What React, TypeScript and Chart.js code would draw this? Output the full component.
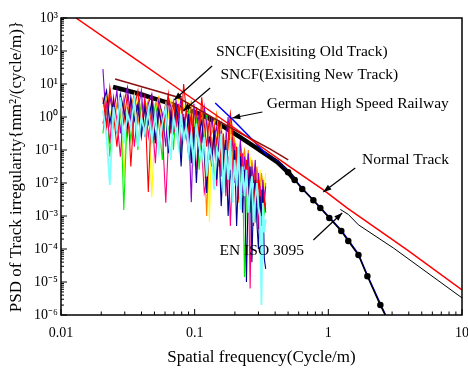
import React, { useEffect, useRef } from 'react';
import { Chart, registerables } from 'chart.js';

Chart.register(...registerables);

const FONT = '"Liberation Serif", "Times New Roman", Times, serif';

// Axis ticks
const xTickValues = [0.01, 0.1, 1, 10];
const xTickLabels = ['0.01', '0.1', '1', '10'];
const yTickValues = [1e3, 1e2, 1e1, 1e0, 1e-1, 1e-2, 1e-3, 1e-4, 1e-5, 1e-6];
const yTickLabels = ['10³', '10²', '10¹', '10⁰', '10⁻¹', '10⁻²', '10⁻³', '10⁻⁴', '10⁻⁵', '10⁻⁶'];
const minorMultipliers = [2, 3, 4, 5, 6, 7, 8, 9];

// Measured spectra: shared spatial frequencies (cycle/m)
const freq = [
  0.0206, 0.0219, 0.0232, 0.0247, 0.0262, 0.0278, 0.0295, 0.0314, 0.0333, 0.0354, 0.0376, 0.0399, 0.0424,
  0.0450, 0.0478, 0.0508, 0.0539, 0.0573, 0.0608, 0.0635, 0.0664, 0.0694, 0.0725, 0.0758, 0.0792, 0.0827,
  0.0865, 0.0903, 0.0944, 0.0987, 0.103, 0.108, 0.113, 0.118, 0.123, 0.129, 0.134, 0.140, 0.146,
  0.152, 0.158, 0.164, 0.171, 0.178, 0.185, 0.192, 0.199, 0.206, 0.213, 0.220, 0.228, 0.236,
  0.244, 0.252, 0.260, 0.268, 0.276, 0.284, 0.292, 0.300, 0.308, 0.316, 0.324, 0.332, 0.340,
];

// Measured PSD values, as log10 of mm^2/(cycle/m)
const cyanLog = [
  0.2, -0.6, -2.06, 0.3, -0.4, 0.6, -0.8, 0.1, -0.3, 0.5, -0.9, 0.0, -0.5,
  0.2, -0.7, 0.1, -1.0, -0.2, 0.3, -0.6, -1.3, 0.0, -0.4, -0.9, 0.1, -0.7,
  -0.3, -1.1, -0.5, -1.5, -0.2, -0.9, -1.3, -0.6, -1.8, -0.9, -1.2, -2.2, -1.0,
  -1.2, -0.5, -2.3, -1.0, -1.9, -0.7, -2.6, -1.3, -2.1, -0.9, -2.8, -1.5, -2.4,
  -1.6, -2.9, -2.2, -1.8, -3.2, -2.5, -2.0, -2.7, -3.0, -5.7, -2.6, -3.5, -3.1,
];
const navyLog = [
  0.4, 0.8, -0.2, 0.5, -0.5, 0.7, 0.2, -0.3, 0.6, -0.1, 0.4, -0.6, 0.3,
  -0.2, 0.5, -0.8, 0.2, -0.3, 0.4, -1.1, 0.1, -0.4, 0.3, -0.2, -1.5, 0.0,
  -0.6, 0.1, -1.4, -0.3, -2.0, -0.5, -0.1, -1.1, -2.3, -0.6, -1.5, -0.4, -1.9,
  -0.9, -2.7, -1.3, -0.7, -3.0, -1.6, -2.2, -1.0, -3.3, -1.8, -1.2, -2.9, -1.6,
  -5.0, -2.0, -1.5, -4.4, -2.3, -1.9, -3.2, -4.0, -2.4, -3.0, -2.2, -4.3, -4.6,
];
const redLog = [
  0.6, -0.3, 0.9, 0.1, -0.9, 0.4, -0.2, 0.7, -1.5, 0.3, 0.8, -0.4, 0.5,
  -2.27, 0.6, -0.7, 0.3, -0.6, 0.2, 0.7, -0.5, 0.4, -0.1, 0.3, -0.3, 1.0,
  0.2, -0.4, 0.1, -1.0, 0.3, -0.6, 0.6, -0.2, -0.9, 0.0, -1.4, -0.3, -0.8,
  -0.1, -1.5, -0.5, -2.1, -0.7, 0.1, -0.4, -1.9, -0.9, -2.5, -1.1, -1.6, -2.2,
  -1.3, -2.7, -1.6, -2.0, -3.3, -1.7, -2.4, -1.9, -2.9, -2.2, -3.1, -2.5, -2.8,
];
const greenLog = [
  -0.5, 0.5, -1.2, 0.2, -0.4, 0.7, -2.82, 0.3, -0.7, 0.1, -1.0, 0.4, -0.3,
  0.2, -0.8, 0.4, -0.2, -1.3, 0.3, -0.5, 0.1, -1.0, 0.2, -0.4, -1.2, 0.0,
  -0.7, 0.2, -1.2, -0.4, 0.0, -1.6, -0.5, -0.9, 0.1, -1.3, -0.6, -2.0, -0.8,
  -1.5, -0.6, -2.2, -1.0, -1.7, -0.8, -2.4, -1.3, -1.9, -1.1, -2.0, -1.5, -4.85,
  -2.3, -1.4, -2.9, -1.8, -2.5, -3.2, -1.9, -2.7, -2.2, -3.3, -2.4, -2.9, -2.6,
];
const purpleLog = [
  1.45, -0.3, 0.6, 0.1, 0.8, -0.5, 0.4, 0.9, -0.1, 0.5, 0.2, 0.8, -0.6,
  0.4, 0.7, -0.2, 0.5, 0.1, -0.9, 0.6, 0.3, -0.4, 0.5, 0.0, 0.6, -0.5,
  0.2, -0.3, -2.58, 0.4, -0.5, 0.1, -0.8, 0.3, -0.2, -1.1, 0.0, -0.6, -0.3,
  -1.0, -0.4, -1.6, -0.8, 0.0, -1.3, -0.6, -2.0, -0.9, -1.4, -0.7, -2.3, -1.2,
  -1.8, -1.1, -2.4, -1.5, -2.0, -1.3, -2.7, -1.7, -2.2, -3.0, -1.9, -2.5, -2.1,
];
const magentaLog = [
  -0.2, 0.4, -0.8, 0.6, -0.1, -1.2, 0.3, -0.5, 0.5, -0.9, 0.2, -0.3, 0.6,
  -0.6, 0.1, -1.4, 0.3, -0.4, -2.6, -0.8, 0.2, -0.5, -0.3, 0.4, -1.0, 0.1,
  -0.5, -1.2, 0.0, -0.7, -1.6, -0.3, -1.0, -2.3, -1.9, -0.6, -1.3, -0.4, -2.1,
  -0.9, -1.8, -0.6, -2.4, -1.2, -3.3, -1.5, -0.8, -2.0, -1.4, -2.6, -1.1, -1.9,
  -2.3, -1.5, -5.2, -2.0, -2.8, -1.7, -2.5, -3.4, -2.1, -2.7, -3.0, -2.3, -2.9,
];
const orangeLog = [
  0.5, 0.1, 0.8, -0.3, 0.4, 0.0, 0.6, -0.6, 0.3, 0.7, -0.2, 0.4, 0.1,
  0.5, -0.4, 0.3, 0.6, -0.1, 0.4, -0.7, 0.2, 0.5, -0.3, 0.1, 0.3, -0.5,
  0.2, -0.2, 0.5, -0.8, 0.0, -0.4, 0.3, -1.0, -3.0, -0.6, -0.5, -0.3, 0.1,
  -0.6, -0.2, -1.2, -0.5, -0.9, 0.0, -1.5, -0.7, -1.1, -2.6, -0.8, -1.3, -1.0,
  -1.6, -1.0, -2.0, -1.3, -1.8, -2.3, -1.5, -1.9, -2.4, -1.7, -2.1, -2.6, -2.0,
];
const yellowLog = [
  0.3, 0.6, 0.0, 0.5, -0.4, 0.7, -1.85, 0.2, 0.4, 0.1, 0.6, -0.2, 0.3,
  0.5, -2.42, 0.2, 0.6, -0.1, 0.4, 0.0, 0.5, -0.3, 0.3, 0.6, -0.2, 0.4,
  0.1, 0.4, -0.3, 0.2, -0.6, 0.0, -0.2, -0.8, 0.1, -3.18, -0.4, -0.1, -0.7,
  -0.4, -1.0, -0.6, -1.4, -0.8, -0.3, -1.2, -1.7, -0.9, -1.3, -1.0, -1.6, -1.1,
  -1.4, -1.9, -1.2, -1.7, -2.2, -1.5, -1.8, -2.0, -1.6, -2.3, -1.9, -2.1, -1.7,
];

// Reference spectra
const normalF = [0.01295, 0.0329, 0.0778, 0.219, 0.519, 0.918, 1.387, 3.91, 10];
const normalV = [1000, 74, 6.58, 0.351, 0.0305, 6.17e-3, 1.74e-3, 9.3e-5, 5.8e-6];

const enF = [1.23, 1.41, 1.68, 3.07, 10];
const enV = [1.58e-3, 1.12e-3, 5.4e-4, 1.07e-4, 3.3e-6];

const oldF = [0.0254, 0.0434, 0.074, 0.1306, 0.219, 0.368, 0.501];
const oldV = [14.2, 7.6, 4.04, 1.07, 0.327, 0.107, 0.05];

const blackF = [0.0245, 0.03, 0.04, 0.05, 0.065, 0.08, 0.105, 0.13, 0.17, 0.22, 0.28, 0.35, 0.415, 0.5, 0.56, 0.638, 0.773, 0.871, 1.017, 1.25, 1.41, 1.68, 1.96, 2.45, 2.7];
const blackV = [8.1, 6.6, 4.8, 3.6, 2.6, 1.9, 1.32, 0.87, 0.47, 0.24, 0.126, 0.069, 0.043, 0.021, 0.0123, 6.6e-3, 3.0e-3, 1.74e-3, 8.7e-4, 3.5e-4, 1.74e-4, 6.6e-5, 1.5e-5, 2.0e-6, 8.9e-7];

const germanF = [0.1425, 0.194, 0.251, 0.3475, 0.415, 0.5, 0.638, 0.871, 1.25, 1.68, 1.96, 2.45, 2.75];
const germanV = [2.65, 0.81, 0.28, 0.071, 0.045, 0.022, 0.0069, 0.0018, 3.7e-4, 7.0e-5, 1.6e-5, 2.2e-6, 8e-7];

// Annotations (data coordinates)
const annotationTexts = [
  { text: 'SNCF(Exisiting Old Track)', f: 0.633, v: 93.3 },
  { text: 'SNCF(Exisiting New Track)', f: 0.721, v: 18.7 },
  { text: 'German High Speed Railway', f: 1.66, v: 2.48 },
  { text: 'Normal Track', f: 3.78, v: 0.0498 },
  { text: 'EN ISO 3095', f: 0.3177, v: 8.7e-5 },
];
const annotationArrows = [
  { f1: 0.135, v1: 35.1, f2: 0.0702, v2: 3.27 },
  { f1: 0.1305, v1: 7.56, f2: 0.082, v2: 1.52 },
  { f1: 0.321, v1: 1.42, f2: 0.191, v2: 0.933 },
  { f1: 1.59, v1: 0.0285, f2: 0.917, v2: 5.33e-3 },
  { f1: 0.773, v1: 1.87e-4, f2: 1.27, v2: 1.23e-3 },
];

const pts = (fs: number[], vs: number[]) => fs.map((f, i) => ({ x: f, y: vs[i] }));
const logPts = (logs: number[]) => freq.map((f, i) => ({ x: f, y: Math.pow(10, logs[i]) }));

const framePlugin = {
  id: 'frameAndNotes',
  afterDatasetsDraw(chart: any) {
    const { ctx, chartArea: a, scales } = chart;
    const xs = scales.x;
    const ys = scales.y;
    ctx.save();
    ctx.strokeStyle = '#000';
    ctx.fillStyle = '#000';
    ctx.lineWidth = 1.5;
    ctx.strokeRect(a.left, a.top, a.right - a.left, a.bottom - a.top);
    ctx.lineWidth = 1;
    const line = (x1: number, y1: number, x2: number, y2: number) => {
      ctx.beginPath();
      ctx.moveTo(x1, y1);
      ctx.lineTo(x2, y2);
      ctx.stroke();
    };
    yTickValues.forEach((d) => {
      const p = ys.getPixelForValue(d);
      line(a.left, p, a.left + 6, p);
      minorMultipliers.forEach((m) => {
        const v = d * m;
        if (v < 1e3) {
          const q = ys.getPixelForValue(v);
          line(a.left, q, a.left + 3, q);
        }
      });
    });
    xTickValues.forEach((d) => {
      const p = xs.getPixelForValue(d);
      line(p, a.bottom, p, a.bottom - 6);
      minorMultipliers.forEach((m) => {
        const v = d * m;
        if (v < 10) {
          const q = xs.getPixelForValue(v);
          line(q, a.bottom, q, a.bottom - 3.5);
        }
      });
    });
    ctx.lineWidth = 1.2;
    annotationArrows.forEach((ar) => {
      const x1 = xs.getPixelForValue(ar.f1);
      const y1 = ys.getPixelForValue(ar.v1);
      const x2 = xs.getPixelForValue(ar.f2);
      const y2 = ys.getPixelForValue(ar.v2);
      line(x1, y1, x2, y2);
      const ang = Math.atan2(y2 - y1, x2 - x1);
      const L = 8;
      const W = 3;
      ctx.beginPath();
      ctx.moveTo(x2, y2);
      ctx.lineTo(x2 - L * Math.cos(ang) + W * Math.sin(ang), y2 - L * Math.sin(ang) - W * Math.cos(ang));
      ctx.lineTo(x2 - L * Math.cos(ang) - W * Math.sin(ang), y2 - L * Math.sin(ang) + W * Math.cos(ang));
      ctx.closePath();
      ctx.fill();
    });
    ctx.font = `15.5px ${FONT}`;
    ctx.textAlign = 'center';
    ctx.textBaseline = 'middle';
    annotationTexts.forEach((t) => {
      ctx.fillText(t.text, xs.getPixelForValue(t.f), ys.getPixelForValue(t.v));
    });
    ctx.restore();
  },
};

export default function App() {
  const ref = useRef<HTMLCanvasElement>(null);
  useEffect(() => {
    document.body.style.margin = '0';
    const canvas = ref.current;
    if (!canvas) return;

    const noise = [
      { label: 'Measured 1', logs: cyanLog, color: '#80ffff', width: 1.8 },
      { label: 'Measured 2', logs: navyLog, color: '#00008f', width: 1.1 },
      { label: 'Measured 3', logs: redLog, color: '#ff0000', width: 1.1 },
      { label: 'Measured 4', logs: magentaLog, color: '#ff0080', width: 1.1 },
      { label: 'Measured 5', logs: purpleLog, color: '#8a00d0', width: 1.1 },
      { label: 'Measured 6', logs: greenLog, color: '#00f000', width: 1.1 },
      { label: 'Measured 7', logs: orangeLog, color: '#ff8000', width: 1.1 },
      { label: 'Measured 8', logs: yellowLog, color: '#ffff00', width: 1.1 },
    ];

    const datasets: any[] = [
      { label: 'Normal Track', data: pts(normalF, normalV), borderColor: '#ff0000', borderWidth: 1.5, order: 0 },
      { label: 'EN ISO 3095', data: pts(enF, enV), borderColor: '#000000', borderWidth: 1, order: 1 },
      { label: 'SNCF(Exisiting Old Track)', data: pts(oldF, oldV), borderColor: '#8b1010', borderWidth: 1.5, order: 2 },
      {
        label: 'SNCF(Exisiting New Track) dots',
        data: pts(blackF.slice(11), blackV.slice(11)),
        borderColor: '#000000',
        backgroundColor: '#000000',
        borderWidth: 1.5,
        pointRadius: (c: any) => (blackF[c.dataIndex + 11] >= 0.5 && blackF[c.dataIndex + 11] < 2.6 ? 2.5 : 0),
        order: 2.5,
      },
      { label: 'German High Speed Railway', data: pts(germanF, germanV), borderColor: '#0000ff', borderWidth: 1.5, order: 3 },
      ...noise.map((n, i) => ({
        label: n.label,
        data: logPts(n.logs),
        borderColor: n.color,
        borderWidth: n.width,
        order: 4 + i,
      })),
      {
        label: 'SNCF(Exisiting New Track)',
        data: pts(blackF.slice(0, 15), blackV.slice(0, 15)),
        borderColor: '#000000',
        borderWidth: 4.5,
        order: 20,
      },
    ];

    const chart = new Chart(canvas, {
      type: 'line',
      data: { datasets },
      options: {
        animation: false,
        responsive: false,
        layout: { padding: { left: 0, top: 18, right: 6, bottom: 0 } },
        elements: {
          point: { radius: 0, hoverRadius: 0 },
          line: { tension: 0, fill: false, borderJoinStyle: 'miter' as any },
        },
        plugins: { legend: { display: false }, tooltip: { enabled: false }, title: { display: false } },
        scales: {
          x: {
            type: 'logarithmic',
            position: 'bottom',
            min: 0.01,
            max: 10,
            afterBuildTicks: (s: any) => {
              s.ticks = xTickValues.map((v) => ({ value: v }));
            },
            afterFit: (s: any) => {
              s.height = 55;
              s.paddingLeft = 0;
              s.paddingRight = 0;
            },
            grid: { display: false, drawTicks: false },
            border: { display: false },
            ticks: {
              autoSkip: false,
              maxRotation: 0,
              padding: 10,
              color: '#000',
              font: { family: FONT, size: 14 },
              callback: (_v: any, i: number) => xTickLabels[i],
            },
            title: {
              display: true,
              text: 'Spatial frequency(Cycle/m)',
              color: '#000',
              font: { family: FONT, size: 17 },
              padding: { top: 0, bottom: 2 },
            },
          },
          y: {
            type: 'logarithmic',
            position: 'left',
            min: 1e-6,
            max: 1e3,
            afterBuildTicks: (s: any) => {
              s.ticks = yTickValues.map((v) => ({ value: v }));
            },
            afterFit: (s: any) => {
              s.width = 61;
              s.paddingTop = 0;
              s.paddingBottom = 0;
            },
            grid: { display: false, drawTicks: false },
            border: { display: false },
            ticks: {
              autoSkip: false,
              padding: 3,
              color: '#000',
              font: { family: FONT, size: 14 },
              callback: (_v: any, i: number) => yTickLabels[i],
            },
            title: {
              display: true,
              text: 'PSD of Track irregularity{mm²/(cycle/m)}',
              color: '#000',
              font: { family: FONT, size: 17 },
              padding: { top: 6, bottom: 0 },
            },
          },
        },
      },
      plugins: [framePlugin],
    });
    return () => chart.destroy();
  }, []);

  return (
    <div style={{ width: 468, height: 370 }}>
      <canvas ref={ref} width={468} height={370} style={{ display: 'block' }} />
    </div>
  );
}
